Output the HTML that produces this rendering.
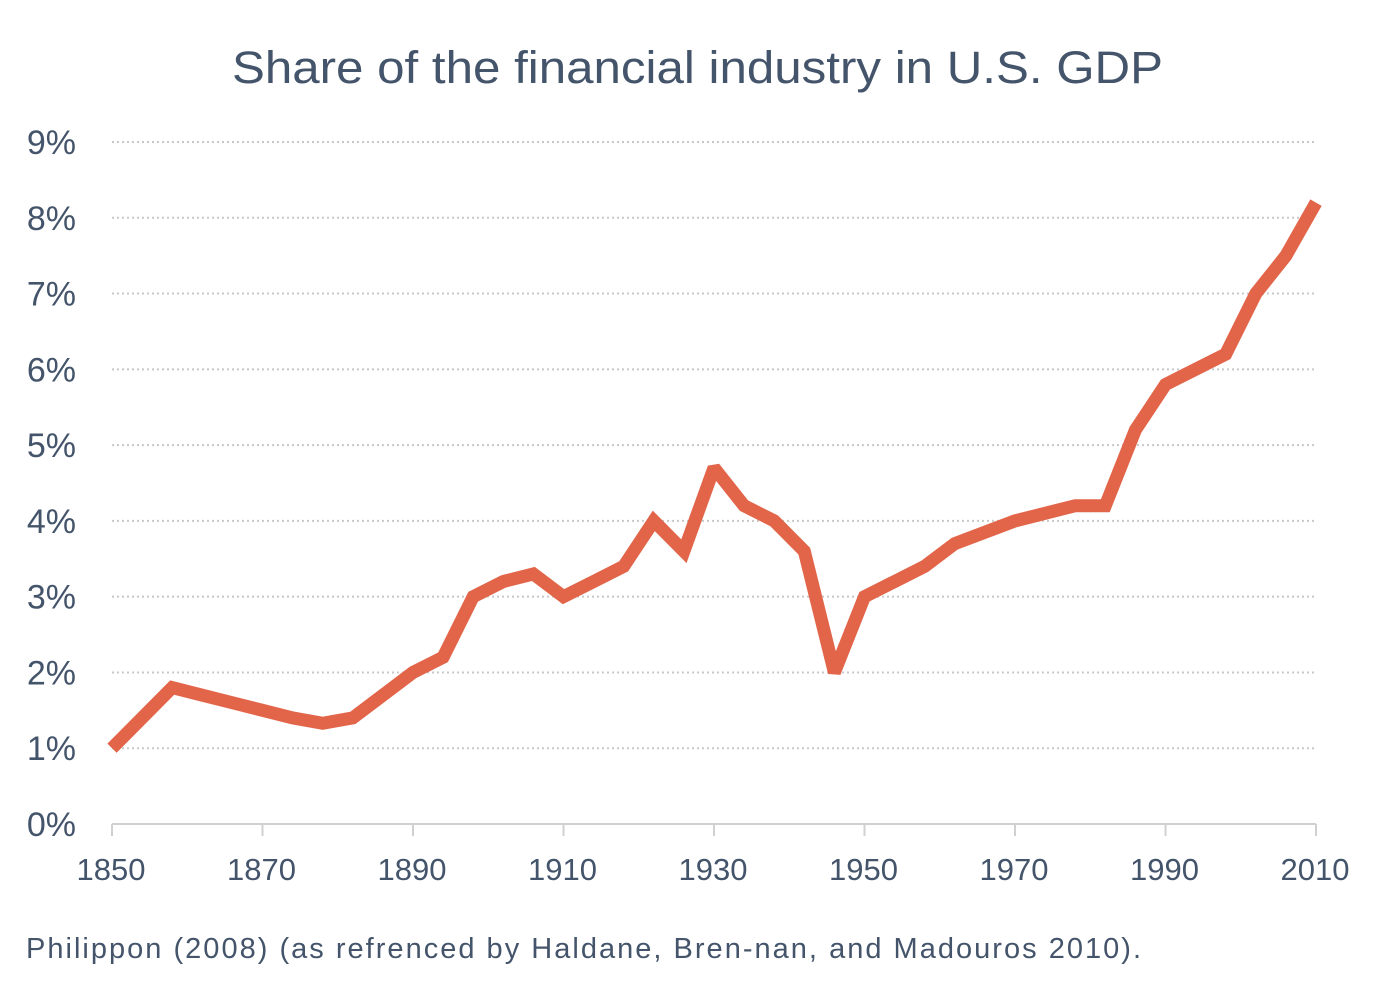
<!DOCTYPE html>
<html><head><meta charset="utf-8"><style>
body{margin:0;background:#fff;width:1395px;height:990px;overflow:hidden}
svg{display:block;font-family:"Liberation Sans",sans-serif}
</style></head><body>
<svg id="chart" width="1395" height="990">
<text x="232" y="83" textLength="931" lengthAdjust="spacingAndGlyphs" font-size="45" fill="#44546a">Share of the financial industry in U.S. GDP</text>
<g id="grid"></g><g id="yt"></g><g id="xt"></g><g id="series"></g>
<text x="26" y="958" textLength="1115" lengthAdjust="spacing" font-size="29" fill="#44546a">Philippon (2008) (as refrenced by Haldane, Bren-nan, and Madouros 2010).</text>
</svg>
<script>
const years=[1850,1858,1862,1866,1870,1874,1878,1882,1886,1890,1894,1898,1902,1906,1910,1914,1918,1922,1926,1930,1934,1938,1942,1946,1950,1954,1958,1962,1966,1970,1974,1978,1982,1986,1990,1994,1998,2002,2006,2010];
const shares=[1.0,1.8,1.7,1.6,1.5,1.4,1.33,1.4,1.7,2.0,2.2,3.0,3.2,3.3,3.0,3.2,3.4,4.0,3.6,4.7,4.2,4.0,3.6,2.0,3.0,3.2,3.4,3.7,3.85,4.0,4.1,4.2,4.2,5.2,5.8,6.0,6.2,7.0,7.5,8.2];
const yTicks=[0,1,2,3,4,5,6,7,8,9];
const xTicks=[1850,1870,1890,1910,1930,1950,1970,1990,2010];
const NS="http://www.w3.org/2000/svg";
const X=v=>112+(v-1850)*(1316-112)/160;
const Y=v=>824-v*(824-142)/9;
function mk(t,a,p){const e=document.createElementNS(NS,t);for(const k in a)e.setAttribute(k,a[k]);p.appendChild(e);return e;}
const g=document.getElementById('grid'),yt=document.getElementById('yt'),xt=document.getElementById('xt'),s=document.getElementById('series');
yTicks.forEach(v=>{
 if(v>0){const l=mk('line',{x1:112,x2:1316,y1:Y(v),y2:Y(v),stroke:'#c8c8c8','stroke-width':2,'stroke-dasharray':'2,3'},g);
 
 }
 const t=mk('text',{x:76,y:Y(v)+12,'text-anchor':'end','font-size':34,fill:'#44546a'},yt);
 t.textContent=v+'%';
 
 
});
const ax=mk('line',{x1:112,x2:1316,y1:Y(0),y2:Y(0),stroke:'#d0d0d0','stroke-width':2},g);


xTicks.forEach(v=>{
 const tk=mk('line',{x1:X(v),x2:X(v),y1:Y(0),y2:Y(0)+12,stroke:'#d0d0d0','stroke-width':2},xt);
 
 
 const t=mk('text',{x:X(v)-1,y:880,'text-anchor':'middle','font-size':31,fill:'#44546a'},xt);
 t.textContent=v;
 
 
});
const p=mk('polyline',{points:years.map((y,i)=>X(y)+','+Y(shares[i])).join(' '),fill:'none',stroke:'#e2654a','stroke-width':13,'stroke-linejoin':'miter','stroke-miterlimit':2},s);


</script>
</body></html>
